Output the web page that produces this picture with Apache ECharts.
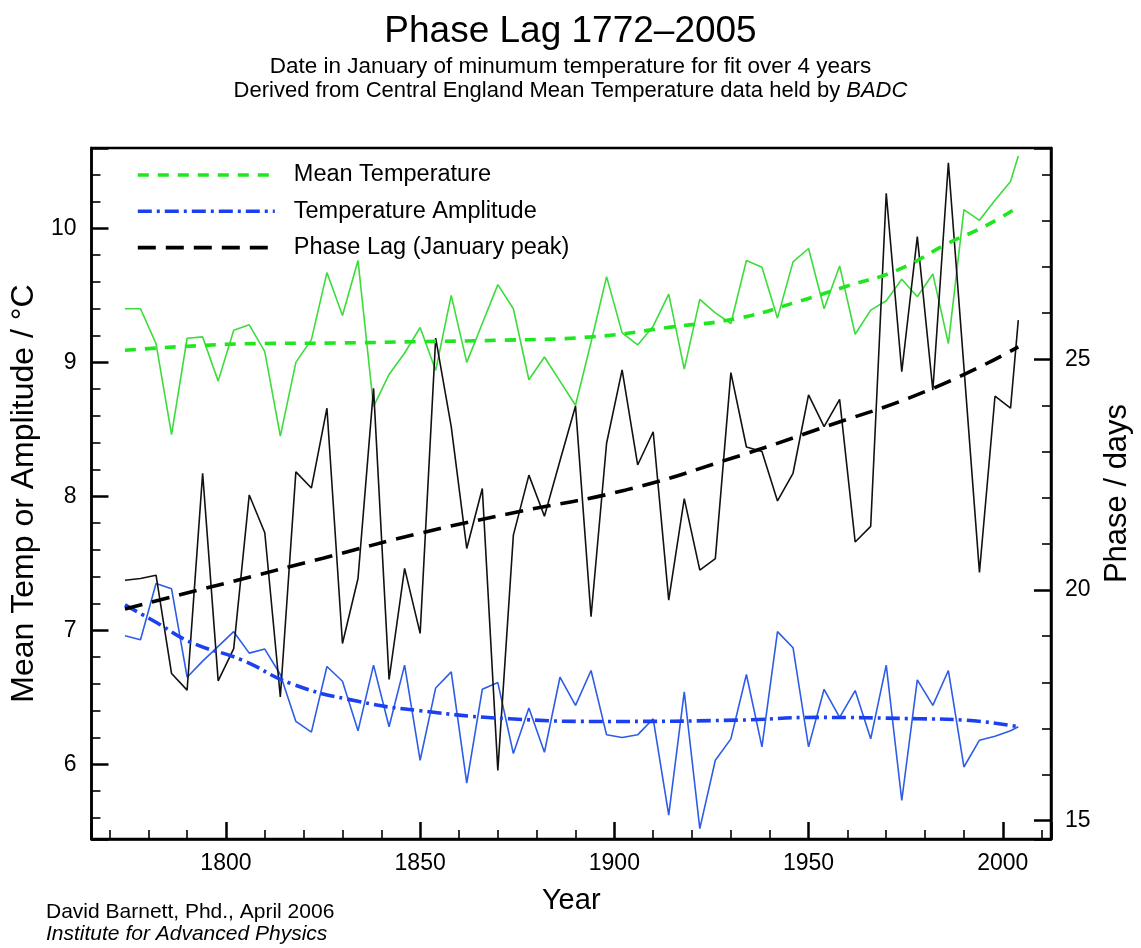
<!DOCTYPE html>
<html>
<head>
<meta charset="utf-8">
<script src="https://cdn.jsdelivr.net/npm/echarts@6/dist/echarts.min.js"></script>
<style>
html,body{margin:0;padding:0;background:#fff;}
#chart{width:1141px;height:948px;}
</style>
</head>
<body>
<div id="chart"></div>
<script>
// ---- data ----
const years = [1774,1778,1782,1786,1790,1794,1798,1802,1806,1810,1814,1818,1822,1826,1830,1834,1838,1842,1846,1850,
  1854,1858,1862,1866,1870,1874,1878,1882,1886,1890,1894,1898,1902,1906,1910,1914,1918,1922,1926,1930,
  1934,1938,1942,1946,1950,1954,1958,1962,1966,1970,1974,1978,1982,1986,1990,1994,1998,2002,2004];

const meanTemp = [9.40,9.40,9.14,8.46,9.18,9.19,8.86,9.24,9.28,9.08,8.45,9.00,9.17,9.67,9.35,9.76,8.67,8.91,9.07,9.26,
  8.94,9.50,9.00,9.29,9.58,9.40,8.87,9.04,8.86,8.68,9.15,9.64,9.22,9.13,9.27,9.51,8.95,9.47,9.37,9.29,
  9.76,9.71,9.33,9.75,9.85,9.40,9.72,9.21,9.39,9.46,9.62,9.49,9.66,9.14,10.14,10.06,10.21,10.35,10.54];

const amplitude = [6.96,6.93,7.35,7.31,6.65,6.77,6.88,6.99,6.83,6.86,6.67,6.32,6.24,6.73,6.62,6.25,6.74,6.28,6.74,6.03,
  6.57,6.69,5.86,6.56,6.61,6.08,6.42,6.09,6.65,6.44,6.70,6.22,6.20,6.22,6.34,5.62,6.54,5.52,6.03,6.19,
  6.67,6.13,6.99,6.87,6.13,6.56,6.35,6.55,6.19,6.74,5.73,6.63,6.44,6.70,5.98,6.18,6.21,6.25,6.28];

const phaseLag = [20.21,20.25,20.32,18.19,17.83,22.53,18.03,18.73,22.06,21.24,17.68,22.56,22.21,23.94,18.84,20.25,24.37,18.06,20.47,19.06,
  25.46,23.54,20.90,22.20,16.09,21.19,22.49,21.60,22.80,23.99,19.42,23.18,24.77,22.71,23.43,19.78,21.98,20.43,20.68,24.71,
  23.10,23.00,21.93,22.53,24.23,23.54,24.13,21.04,21.38,28.60,24.73,27.66,24.33,29.26,24.83,20.38,24.20,23.94,25.85];

// fitted curves (read at selected years)
const tempFitYears = [1774,1790,1808,1830,1850,1870,1894,1915,1932,1948,1960,1973,1986,1995,2004];
const tempFit      = [9.09,9.12,9.14,9.145,9.155,9.165,9.19,9.265,9.33,9.46,9.57,9.69,9.89,10.01,10.16];

const ampFitYears = [1774,1782,1791,1804,1817,1834,1850,1873,1898,1932,1952,1978,1990,2004];
const ampFit      = [7.19,7.06,6.91,6.78,6.60,6.47,6.40,6.34,6.32,6.33,6.35,6.34,6.33,6.28];

const phaseFitYears = [1774,1800,1825,1850,1875,1903,1930,1953,1982,2004];
const phaseFit      = [19.59,20.15,20.69,21.23,21.69,22.17,22.85,23.50,24.37,25.27];

const xTickLabels = ['1800','1850','1900','1950','2000'];
const leftTickLabels = ['6','7','8','9','10'];
const rightTickLabels = ['15','20','25'];

const legendNames = ['Mean Temperature','Temperature Amplitude','Phase Lag (January peak)'];

// ---- chart ----
const FONT = '"Liberation Sans", Arial, Helvetica, sans-serif';
const pairs = (xs, ys) => xs.map((x, i) => [x, ys[i]]);
const intLabel = (allowed) => (v) => {
  const r = Math.round(v);
  return (Math.abs(v - r) < 1e-6 && allowed.indexOf(String(r)) >= 0) ? String(r) : '';
};

const chart = echarts.init(document.getElementById('chart'), null, {renderer: 'canvas'});

const baseText = {fontFamily: FONT, color: '#000', fontWeight: 'normal'};

const option = {
  animation: false,
  backgroundColor: '#fff',
  title: [
    {text: 'Phase Lag 1772\u20132005', left: 'center', top: 13, padding: 0,
     textStyle: Object.assign({}, baseText, {fontSize: 37})},
    {text: 'Date in January of minumum temperature for fit over 4 years', left: 'center', top: 55, padding: 0,
     textStyle: Object.assign({}, baseText, {fontSize: 22.5})},
    {text: 'Derived from Central England Mean Temperature data held by {i|BADC}', left: 'center', top: 80, padding: 0,
     textStyle: Object.assign({}, baseText, {fontSize: 22,
       rich: {i: {fontStyle: 'italic', fontSize: 22, fontFamily: FONT, color: '#000'}}})},
    {text: 'David Barnett, Phd., April 2006', left: 46, top: 902, padding: 0,
     textStyle: Object.assign({}, baseText, {fontSize: 21})},
    {text: 'Institute for Advanced Physics', left: 46, top: 924, padding: 0,
     textStyle: Object.assign({}, baseText, {fontSize: 21, fontStyle: 'italic'})}
  ],
  legend: {
    data: legendNames,
    orient: 'vertical',
    left: 131,
    top: 158,
    itemWidth: 137,
    itemHeight: 20,
    itemGap: 12.3,
    selectedMode: false,
    itemStyle: {opacity: 0},
    lineStyle: {width: 3.6},
    textStyle: Object.assign({}, baseText, {fontSize: 23.5, padding: [0, 0, 0, 14], lineHeight: 20})
  },
  grid: {
    left: 88.3, right: 84.3, top: 148, bottom: 109,
    show: true, borderColor: '#000', borderWidth: 2.5, containLabel: false
  },
  xAxis: {
    type: 'value',
    min: 1765.38, max: 2012.42,
    minInterval: 50, maxInterval: 50, splitNumber: 5,
    name: 'Year', nameLocation: 'middle', nameGap: 47,
    nameTextStyle: Object.assign({}, baseText, {fontSize: 29}),
    axisLine: {show: true, onZero: false, lineStyle: {color: '#000', width: 2.5}},
    axisTick: {show: true, inside: true, length: 17, lineStyle: {color: '#000', width: 2.5}},
    minorTick: {show: true, splitNumber: 5, length: 9, lineStyle: {color: '#000', width: 1.6}},
    axisLabel: Object.assign({}, baseText, {fontSize: 23, margin: 13, showMinLabel: false, showMaxLabel: false,
      formatter: intLabel(xTickLabels)}),
    splitLine: {show: false}
  },
  yAxis: [
    {
      type: 'value', position: 'left',
      min: 5.4425, max: 10.6,
      minInterval: 1, maxInterval: 1, splitNumber: 5,
      name: 'Mean Temp or Amplitude / \u00B0C', nameLocation: 'middle', nameGap: 48, nameRotate: 90,
      nameTextStyle: Object.assign({}, baseText, {fontSize: 32}),
      axisLine: {show: true, onZero: false, lineStyle: {color: '#000', width: 2.5}},
      axisTick: {show: true, inside: true, length: 17, lineStyle: {color: '#000', width: 2.5}},
      minorTick: {show: true, splitNumber: 5, length: 9, lineStyle: {color: '#000', width: 1.6}},
      axisLabel: Object.assign({}, baseText, {fontSize: 23, margin: 15, showMinLabel: false, showMaxLabel: false,
        formatter: intLabel(leftTickLabels)}),
      splitLine: {show: false}
    },
    {
      type: 'value', position: 'right',
      min: 14.603, max: 29.58,
      minInterval: 5, maxInterval: 5, splitNumber: 3,
      name: 'Phase / days', nameLocation: 'middle', nameGap: 51, nameRotate: 90,
      nameTextStyle: Object.assign({}, baseText, {fontSize: 31}),
      axisLine: {show: true, onZero: false, lineStyle: {color: '#000', width: 2.5}},
      axisTick: {show: true, inside: true, length: 17, lineStyle: {color: '#000', width: 2.5}},
      minorTick: {show: true, splitNumber: 5, length: 9, lineStyle: {color: '#000', width: 1.6}},
      axisLabel: Object.assign({}, baseText, {fontSize: 23, margin: 14, showMinLabel: false, showMaxLabel: false,
        formatter: intLabel(rightTickLabels)}),
      splitLine: {show: false}
    }
  ],
  series: [
    {name: 'Mean Temperature data', type: 'line', yAxisIndex: 0, symbol: 'none',
     data: pairs(years, meanTemp), lineStyle: {color: '#3bdc3b', width: 1.6}, itemStyle: {color: '#3bdc3b'}},
    {name: 'Temperature Amplitude data', type: 'line', yAxisIndex: 0, symbol: 'none',
     data: pairs(years, amplitude), lineStyle: {color: '#2d5ce6', width: 1.6}, itemStyle: {color: '#2d5ce6'}},
    {name: 'Phase Lag data', type: 'line', yAxisIndex: 1, symbol: 'none',
     data: pairs(years, phaseLag), lineStyle: {color: '#111', width: 1.6}, itemStyle: {color: '#111'}},
    {name: legendNames[0], type: 'line', yAxisIndex: 0, symbol: 'none', smooth: true,
     data: pairs(tempFitYears, tempFit),
     lineStyle: {color: '#1fe61f', width: 3.6, type: [11, 9]}, itemStyle: {color: '#1fe61f'}},
    {name: legendNames[1], type: 'line', yAxisIndex: 0, symbol: 'none', smooth: true,
     data: pairs(ampFitYears, ampFit),
     lineStyle: {color: '#1a40f0', width: 3.6, type: [14, 5, 3, 5]}, itemStyle: {color: '#1a40f0'}},
    {name: legendNames[2], type: 'line', yAxisIndex: 1, symbol: 'none', smooth: true,
     data: pairs(phaseFitYears, phaseFit),
     lineStyle: {color: '#000', width: 3.6, type: [18, 10]}, itemStyle: {color: '#000'}}
  ]
};
chart.setOption(option);
</script>
</body>
</html>
